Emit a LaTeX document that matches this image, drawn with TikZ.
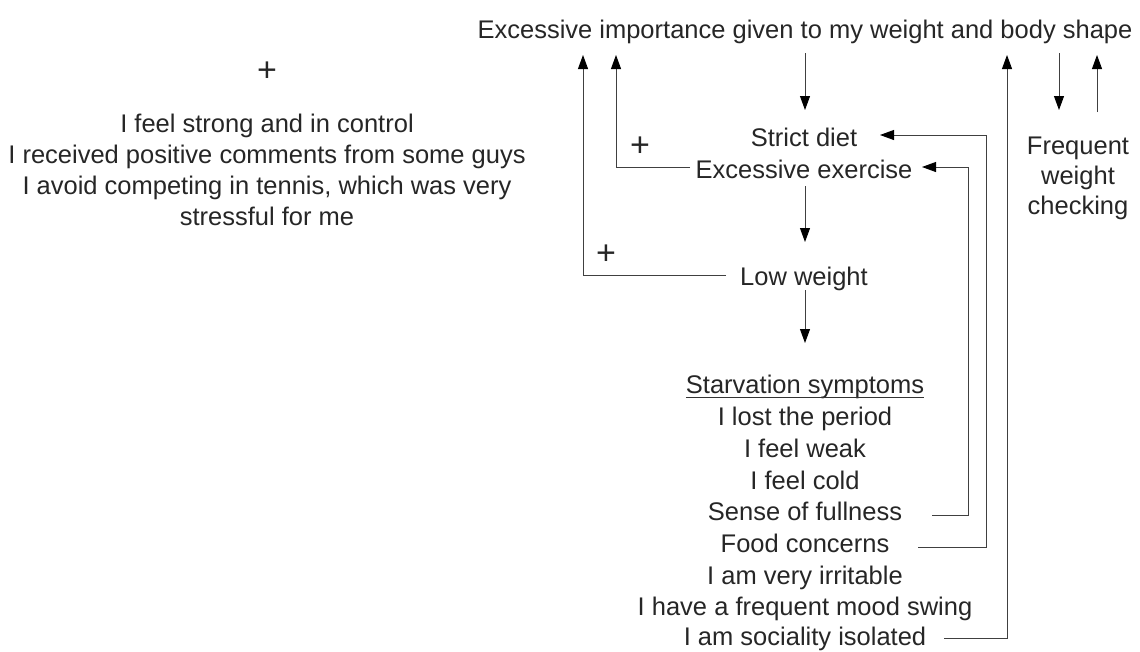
\documentclass[tikz,border=0pt]{standalone}
\usepackage{fontspec}
\setmainfont{Liberation Sans}
\usetikzlibrary{arrows.meta}
\begin{document}
\begin{tikzpicture}[x=1pt,y=-1pt,
  txt/.style={font=\fontsize{25.5}{31}\selectfont, inner sep=0pt, anchor=base, text=black!85},
  blk/.style={txt, align=center, anchor=center},
  plus/.style={inner sep=0pt, anchor=center, text=black!85, font=\fontsize{34}{34}\selectfont},
  ln/.style={line width=0.9pt, draw=black!75},
  arr/.style={ln, -{Triangle[length=14pt,width=10pt,color=black]}}]
\useasboundingbox (0,0) rectangle (1140,651);
% nodes
\node[txt] (title) at (805,38) {Excessive importance given to my weight and body shape};
\node[txt] (diet) at (804,146) {Strict diet};
\node[txt] (exer) at (804,178) {Excessive exercise};
\node[txt] (low) at (804,285) {Low weight};
\node[blk, font=\fontsize{25.5}{30}\selectfont] (fwc) at (1078,178) {Frequent\\weight\\checking};
\node[plus] (plusL) at (267,72) {+};
\node[plus] (plusA) at (640,147) {+};
\node[plus] (plusB) at (606,255) {+};
\node[blk] (gain) at (267,170) {I feel strong and in control\\I received positive comments from some guys\\I avoid competing in tennis, which was very\\stressful for me};
\node[txt] (s0) at (805,393) {Starvation symptoms};
\node[txt] (s1) at (805,425) {I lost the period};
\node[txt] (s2) at (805,457) {I feel weak};
\node[txt] (s3) at (805,489) {I feel cold};
\node[txt] (s4) at (805,520) {Sense of fullness};
\node[txt] (s5) at (805,552) {Food concerns};
\node[txt] (s6) at (805,584) {I am very irritable};
\node[txt] (s7) at (805,615) {I have a frequent mood swing};
\node[txt] (s8) at (805,645) {I am sociality isolated};
\draw[line width=0.8pt, black!80] ([yshift=-4pt]s0.base west) -- ([yshift=-4pt]s0.base east);
% coordinates
\coordinate (t1) at (583,55);
\coordinate (t2) at (616,55);
\coordinate (t3) at (1007,55);
\coordinate (k1) at (968,515);
\coordinate (k2) at (986,547);
\coordinate (k3) at (1007,638);
\coordinate (lw) at (726,275);
\coordinate (ex) at (690,167);
% connectors
\draw[arr] (lw) -| (t1);
\draw[arr] (ex) -| (t2);
\draw[arr] (805,53) -- (805,110);
\draw[arr] (805,186) -- (805,242);
\draw[arr] (805,290) -- (805,343);
\draw[arr] (1059,53) -- (1059,110);
\draw[arr] (1097,112) -- (1097,55);
\draw[arr] (932,515) -- (k1) -- (968,167) -- (922,167);
\draw[arr] (918,547) -- (k2) -- (986,135) -- (880,135);
\draw[arr] (944,638) -- (k3) -- (t3);
\end{tikzpicture}
\end{document}
